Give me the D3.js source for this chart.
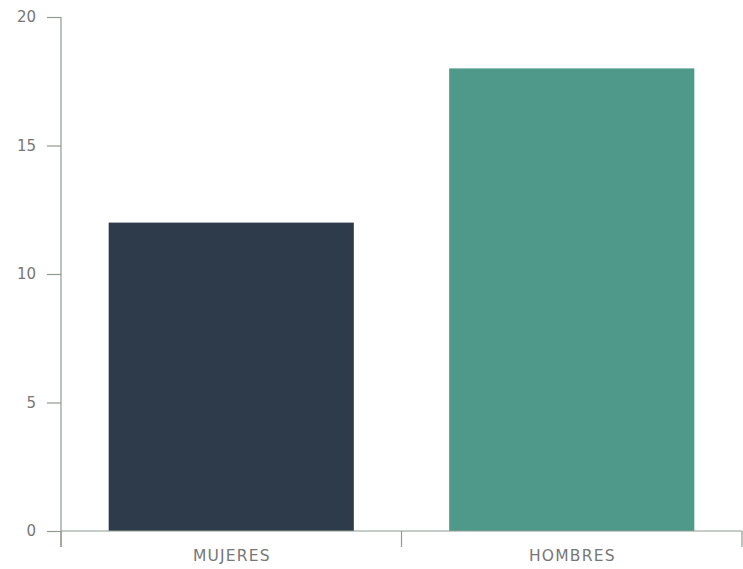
<!DOCTYPE html>
<html>
<head>
<meta charset="utf-8">
<script src="https://cdn.jsdelivr.net/npm/d3@7"></script>
<style>
  body { margin: 0; background: #fff; }
  .axis text { font-family: "DejaVu Sans", sans-serif; font-size: 15px; fill: #777; }
  .axis .label { font-size: 15.5px; letter-spacing: 1.2px; }
  .axis path, .axis line { stroke: #8e9c8f; stroke-width: 1.2; }
</style>
</head>
<body>
<div id="chart"></div>
<script>
var categories = ["MUJERES", "HOMBRES"];
var values = [12, 18];
var colors = ["#2e3b4b", "#4f998a"];
var yTicks = [0, 5, 10, 15, 20];

var width = 743, height = 569;
var margin = { top: 17, right: 1, bottom: 38, left: 61 };

var svg = d3.select("#chart")
	.append("svg")
	.attr("width", width)
	.attr("height", height);

var x = d3.scaleBand()
	.domain(categories)
	.range([margin.left, width - margin.right])
	.paddingInner(0.28)
	.paddingOuter(0.14);

var y = d3.scaleLinear()
	.domain([0, 20])
	.range([height - margin.bottom, margin.top]);

//Bars
svg.selectAll(".bar")
	.data(categories)
	.enter().append("rect")
	.attr("class", "bar")
	.attr("x", function(d) { return x(d); })
	.attr("width", x.bandwidth())
	.attr("y", function(d, i) { return y(values[i]); })
	.attr("height", function(d, i) { return y(0) - y(values[i]); })
	.style("fill", function(d, i) { return colors[i]; });

//Y axis
svg.append("g")
	.attr("class", "axis")
	.attr("transform", "translate(" + margin.left + ",0)")
	.call(d3.axisLeft(y).tickValues(yTicks).tickSize(14).tickSizeOuter(0).tickPadding(11))
	.select(".domain").attr("d", "M0," + y(20) + "V" + (y(0) + 16));

//X axis: ticks sit between the bands
var bandEdges = [margin.left, (margin.left + width - margin.right) / 2, width - margin.right];
var xAxis = svg.append("g")
	.attr("class", "axis")
	.attr("transform", "translate(0," + y(0) + ")");

xAxis.append("path")
	.attr("d", "M" + bandEdges[0] + ",0H" + bandEdges[2])
	.style("fill", "none");

xAxis.selectAll(".edge")
	.data(bandEdges)
	.enter().append("line")
	.attr("class", "edge")
	.attr("x1", function(d) { return d; })
	.attr("x2", function(d) { return d; })
	.attr("y1", 0)
	.attr("y2", 16);

xAxis.selectAll(".label")
	.data(categories)
	.enter().append("text")
	.attr("class", "label")
	.attr("x", function(d) { return x(d) + x.bandwidth() / 2 + 0.6; })
	.attr("y", 30)
	.attr("text-anchor", "middle")
	.text(function(d) { return d; });
</script>
</body>
</html>
